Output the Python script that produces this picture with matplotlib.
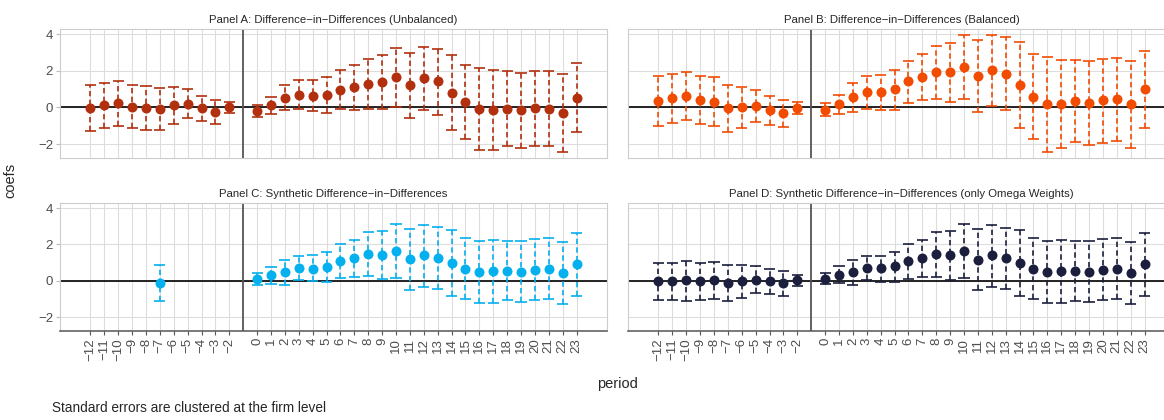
import numpy as np
import matplotlib
matplotlib.use("Agg")
import matplotlib.pyplot as plt

nan = np.nan

# Event-time periods (period -1 is the omitted reference period)
periods = list(range(-12, -1)) + list(range(0, 24))

panel_titles = [
    "Panel A: Difference\u2212in\u2212Differences (Unbalanced)",
    "Panel B: Difference\u2212in\u2212Differences (Balanced)",
    "Panel C: Synthetic Difference\u2212in\u2212Differences",
    "Panel D: Synthetic Difference\u2212in\u2212Differences (only Omega Weights)",
]
panel_colors = ["#B2300E", "#F24B02", "#05B0EE", "#1B1F3D"]

# Panel A estimates and confidence bounds
coef_a = [-0.05, 0.11, 0.25, 0.04, -0.02, -0.09, 0.11, 0.18, -0.02, -0.25, 0.0,
          -0.2, 0.11, 0.53, 0.69, 0.65, 0.67, 0.97, 1.11, 1.29, 1.38, 1.64, 1.2,
          1.58, 1.42, 0.78, 0.31, -0.09, -0.15, -0.07, -0.16, -0.04, -0.07, -0.31, 0.53]
hi_a = [1.2, 1.35, 1.45, 1.24, 1.18, 1.05, 1.09, 0.98, 0.65, 0.42, 0.29,
        0.15, 0.56, 1.2, 1.47, 1.48, 1.66, 2.06, 2.33, 2.67, 2.85, 3.24, 2.98,
        3.29, 3.2, 2.85, 2.33, 2.15, 2.02, 1.98, 1.89, 2.0, 2.0, 1.85, 2.42]
lo_a = [-1.29, -1.11, -1.0, -1.15, -1.24, -1.24, -0.91, -0.6, -0.76, -0.91, -0.29,
        -0.51, -0.36, -0.15, -0.07, -0.18, -0.31, -0.11, -0.13, -0.09, -0.11, 0.05, -0.56,
        -0.16, -0.4, -1.25, -1.71, -2.35, -2.31, -2.11, -2.2, -2.09, -2.13, -2.44, -1.35]

# Panel B estimates and confidence bounds
coef_b = [0.36, 0.51, 0.62, 0.4, 0.31, -0.02, 0.0, 0.07, -0.15, -0.33, -0.05,
          -0.13, 0.16, 0.56, 0.84, 0.83, 0.98, 1.44, 1.64, 1.91, 1.91, 2.2, 1.69,
          2.02, 1.85, 1.2, 0.58, 0.16, 0.18, 0.36, 0.25, 0.38, 0.47, 0.16, 0.98]
hi_b = [1.71, 1.84, 1.95, 1.69, 1.64, 1.25, 1.11, 0.96, 0.62, 0.42, 0.27,
        0.24, 0.69, 1.33, 1.71, 1.75, 2.04, 2.56, 2.91, 3.36, 3.49, 3.96, 3.69,
        3.93, 3.85, 3.55, 2.93, 2.73, 2.6, 2.58, 2.53, 2.67, 2.71, 2.56, 3.07]
lo_b = [-1.0, -0.85, -0.71, -0.91, -1.02, -1.35, -1.13, -0.78, -0.95, -1.07, -0.36,
        -0.47, -0.38, -0.25, -0.09, -0.15, -0.13, 0.25, 0.42, 0.47, 0.31, 0.47, -0.25,
        0.07, -0.15, -1.15, -1.73, -2.42, -2.2, -1.87, -2.05, -1.96, -1.82, -2.24, -1.11]

# Panel C estimates and confidence bounds (only one pre-period estimate)
coef_c = [nan, nan, nan, nan, nan, -0.13, nan, nan, nan, nan, nan,
          0.11, 0.31, 0.47, 0.7, 0.67, 0.78, 1.08, 1.23, 1.48, 1.42, 1.66, 1.19,
          1.41, 1.28, 0.99, 0.65, 0.49, 0.52, 0.56, 0.49, 0.61, 0.67, 0.45, 0.92]
hi_c = [nan, nan, nan, nan, nan, 0.88, nan, nan, nan, nan, nan,
        0.43, 0.78, 1.12, 1.39, 1.4, 1.59, 2.02, 2.23, 2.67, 2.76, 3.15, 2.86,
        3.08, 2.94, 2.79, 2.34, 2.2, 2.27, 2.2, 2.18, 2.29, 2.38, 2.14, 2.65]
lo_c = [nan, nan, nan, nan, nan, -1.1, nan, nan, nan, nan, nan,
        -0.22, -0.2, -0.22, 0.04, -0.03, -0.07, 0.13, 0.2, 0.25, 0.11, 0.14, -0.49,
        -0.32, -0.45, -0.83, -1.01, -1.23, -1.23, -1.08, -1.15, -1.06, -1.01, -1.26, -0.83]

# Panel D estimates and confidence bounds
coef_d = [0.0, 0.0, 0.02, -0.02, 0.04, -0.13, -0.02, 0.04, -0.02, -0.14, 0.02,
          0.11, 0.32, 0.49, 0.72, 0.7, 0.79, 1.08, 1.23, 1.5, 1.42, 1.64, 1.17,
          1.41, 1.26, 0.97, 0.63, 0.49, 0.52, 0.56, 0.49, 0.61, 0.67, 0.45, 0.9]
hi_d = [0.97, 0.97, 1.1, 0.97, 1.05, 0.86, 0.85, 0.83, 0.67, 0.56, 0.32,
        0.41, 0.79, 1.12, 1.39, 1.39, 1.61, 2.02, 2.23, 2.67, 2.76, 3.14, 2.86,
        3.08, 2.92, 2.77, 2.34, 2.2, 2.27, 2.2, 2.18, 2.29, 2.38, 2.14, 2.65]
lo_d = [-1.05, -1.06, -1.1, -1.08, -1.01, -1.1, -0.94, -0.68, -0.74, -0.83, -0.29,
        -0.2, -0.14, -0.22, 0.02, -0.04, -0.09, 0.11, 0.2, 0.23, 0.07, 0.13, -0.49,
        -0.32, -0.45, -0.83, -1.01, -1.23, -1.23, -1.1, -1.17, -1.06, -1.01, -1.26, -0.83]

y_breaks = [-2, 0, 2, 4]

panels = [
    (coef_a, lo_a, hi_a),
    (coef_b, lo_b, hi_b),
    (coef_c, lo_c, hi_c),
    (coef_d, lo_d, hi_d),
]

plt.rcParams["font.family"] = ["Liberation Sans", "DejaVu Sans"]

W, H = 1164, 420
fig = plt.figure(figsize=(W / 100, H / 100), dpi=100)

cap_half = 0.4
x = np.array(periods, dtype=float)

# shared scales with 5% expansion, as in the faceted layout
all_lo = np.nanmin([np.nanmin(p[1]) for p in panels])
all_hi = np.nanmax([np.nanmax(p[2]) for p in panels])
yr = all_hi - all_lo
ylim = (all_lo - 0.05 * yr, all_hi + 0.05 * yr)
xmin, xmax = x.min() - cap_half, x.max() + cap_half
xr = xmax - xmin
xlim = (xmin - 0.05 * xr, xmax + 0.05 * xr)

pw = 547 / W
lefts = [60 / W, 628 / W]
tops = [(29, 158), (203, 331)]

text_gray = "#4D4D4D"
grid_col = "#DDDDDD"

for i, (coef, lo, hi) in enumerate(panels):
    row, col = divmod(i, 2)
    t, b = tops[row]
    ax = fig.add_axes([lefts[col], 1 - b / H, pw, (b - t) / H])
    ax.set_xlim(*xlim)
    ax.set_ylim(*ylim)
    ax.set_xticks(periods)
    ax.set_yticks(y_breaks)
    ax.grid(True, color=grid_col, linewidth=0.8, zorder=0)
    ax.set_axisbelow(True)
    for s in ax.spines.values():
        s.set_color("#CCCCCC")
        s.set_linewidth(0.8)

    ax.axhline(0, color="black", linewidth=1.2, zorder=2)
    ax.axvline(-1, color="#555555", linewidth=1.3, zorder=2)

    c = np.array(coef, dtype=float)
    l = np.array(lo, dtype=float)
    h = np.array(hi, dtype=float)
    m = ~np.isnan(c)
    colr = panel_colors[i]
    ax.vlines(x[m], l[m], h[m], colors=colr, linewidth=1.2,
              linestyles=(0, (3.2, 2.0)), zorder=3)
    ax.hlines(h[m], x[m] - cap_half, x[m] + cap_half, colors=colr, linewidth=1.2, zorder=3)
    ax.hlines(l[m], x[m] - cap_half, x[m] + cap_half, colors=colr, linewidth=1.2, zorder=3)
    ax.plot(x[m], c[m], "o", color=colr, markersize=7.2, markeredgewidth=0, zorder=4)

    ax.set_title(panel_titles[i], fontsize=8.2, color="#262626", pad=4)

    if col == 0:
        ax.tick_params(axis="y", labelsize=9.5, labelcolor=text_gray, color="#BBBBBB",
                       length=3, width=0.8, pad=2)
        ax.set_yticklabels([str(v).replace("-", "\u2212") for v in y_breaks])
    else:
        ax.tick_params(axis="y", left=False, labelleft=False)

    if row == 1:
        ax.spines["bottom"].set_color("#555555")
        ax.spines["bottom"].set_linewidth(1.1)
        ax.tick_params(axis="x", labelsize=9.5, labelcolor=text_gray, color="#555555",
                       length=3, width=0.8, pad=2, labelrotation=90)
        ax.set_xticklabels([str(p).replace("-", "\u2212") for p in periods])
        for lab in ax.get_xticklabels():
            lab.set_verticalalignment("top")
            lab.set_horizontalalignment("center")
    else:
        ax.tick_params(axis="x", bottom=False, labelbottom=False)

fig.text(10 / W, 1 - 180 / H, "coefs", rotation=90, ha="center", va="center",
         fontsize=10.5, color="#262626")
fig.text(617 / W, 1 - 384 / H, "period", ha="center", va="center",
         fontsize=10.5, color="#262626")
fig.text(52 / W, 1 - 408 / H, "Standard errors are clustered at the firm level",
         ha="left", va="center", fontsize=9.8, color="#262626")

fig.savefig("out.png", dpi=100)
